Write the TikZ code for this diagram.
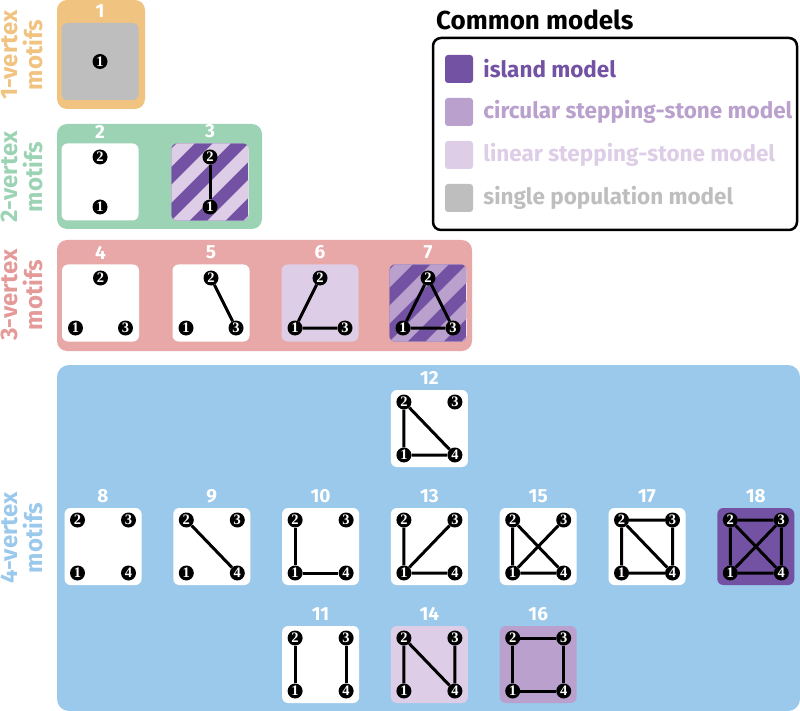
\documentclass[tikz,border=0pt]{standalone}
\usepackage{fontspec}
\setmainfont{Fira Sans}
\newfontfamily\vtxfont{Liberation Serif}
\usetikzlibrary{positioning, calc}

\definecolor{grporange}{HTML}{F0C380}
\definecolor{grpgreen}{HTML}{9DD3B5}
\definecolor{grpred}{HTML}{E8A8A8}
\definecolor{grpblue}{HTML}{9BC9EC}
\definecolor{txtred}{HTML}{E59A9A}
\definecolor{island}{HTML}{7352A3}
\definecolor{circular}{HTML}{B9A0CD}
\definecolor{linear}{HTML}{DDCDE6}
\definecolor{single}{HTML}{BEBEBE}

% vertices of a motif, placed round the square node #1
\newcommand{\onevtx}[1]{%
  \node[vtx] (#1-1) at (#1) {1};}
\newcommand{\twovtx}[1]{%
  \node[vtx] (#1-1) at ($(#1)+(0,25)$) {1};
  \node[vtx] (#1-2) at ($(#1)+(0,-25)$) {2};}
\newcommand{\threevtx}[1]{%
  \node[vtx] (#1-1) at ($(#1)+(-25,25)$) {1};
  \node[vtx] (#1-2) at ($(#1)+(0,-25)$) {2};
  \node[vtx] (#1-3) at ($(#1)+(25,25)$) {3};}
\newcommand{\fourvtx}[1]{%
  \node[vtx] (#1-1) at ($(#1)+(-25.5,26.5)$) {1};
  \node[vtx] (#1-2) at ($(#1)+(-25.5,-26.5)$) {2};
  \node[vtx] (#1-3) at ($(#1)+(25.5,-26.5)$) {3};
  \node[vtx] (#1-4) at ($(#1)+(25.5,26.5)$) {4};}
% island stripes over a square node #1, other colour #2
\newcommand{\stripefill}[2]{%
  \begin{scope}
    \clip[rounded corners=6pt] (#1.south west) rectangle (#1.north east);
    \fill[island] (#1.south west) rectangle (#1.north east);
    \foreach \k in {-3,...,3}
      \fill[#2] ($(#1)+(\k*36-60,60)$) -- ++(18,0) -- ++(120,-120) -- ++(-18,0) -- cycle;
  \end{scope}}

\begin{document}
\begin{tikzpicture}[x=1pt, y=-1pt,
    motif/.style={rectangle, rounded corners=6pt, fill=white, minimum size=77pt, inner sep=0pt},
    vtx/.style={circle, fill=black, text=white, inner sep=0pt, minimum size=15pt, font=\vtxfont\bfseries\fontsize{14.5}{14.5}\selectfont},
    link/.style={line width=3pt, black},
    num/.style={text=white, inner sep=0pt, font=\fontsize{19}{19}\selectfont\bfseries},
    grplabel/.style={rotate=90, align=center, inner sep=0pt, font=\fontsize{24}{25}\selectfont\bfseries},
    swatch/.style={rectangle, rounded corners=3pt, minimum size=28pt, inner sep=0pt},
    legtext/.style={anchor=west, inner sep=0pt, font=\fontsize{22.5}{22.5}\selectfont\bfseries},
  ]
  \useasboundingbox (0,0) rectangle (800,711);

  % Group backgrounds
  \fill[grporange, rounded corners=10pt] (57,0) rectangle (145,109);
  \fill[grpgreen, rounded corners=10pt] (57,124) rectangle (262,229);
  \fill[grpred, rounded corners=10pt] (57,240) rectangle (472,351);
  \fill[grpblue, rounded corners=12pt] (57,365) rectangle (800,711);

  % Group labels
  \node[grplabel, text=grporange] (g1) at (22,55) {1-vertex\\motifs};
  \node[grplabel, text=grpgreen] (g2) at (22,177) {2-vertex\\motifs};
  \node[grplabel, text=txtred] (g3) at (22,295) {3-vertex\\motifs};
  \node[grplabel, text=grpblue] (g4) at (22,538) {4-vertex\\motifs};

  % Motif squares
  \node[motif, fill=single] (m1) at (100,61.5) {};
  \node[motif] (m2) at (100,182) {};
  \node[motif] (m3) at (210,182) {};
  \node[motif] (m4) at (100.5,303) {};
  \node[motif] (m5) at (211,303) {};
  \node[motif, fill=linear] (m6) at (320,303) {};
  \node[motif] (m7) at (428,303) {};
  \node[motif] (m12) at (429.4,428.5) {};
  \node[motif] (m8) at (103,546.5) {};
  \node[motif] (m9) at (211.8,546.5) {};
  \node[motif] (m10) at (320.6,546.5) {};
  \node[motif] (m13) at (429.4,546.5) {};
  \node[motif] (m15) at (538.2,546.5) {};
  \node[motif] (m17) at (647,546.5) {};
  \node[motif, fill=island] (m18) at (755.8,546.5) {};
  \node[motif] (m11) at (320.6,664.5) {};
  \node[motif, fill=linear] (m14) at (429.4,664.5) {};
  \node[motif, fill=circular] (m16) at (538.2,664.5) {};

  % Mixed models
  \stripefill{m3}{linear}
  \stripefill{m7}{circular}

  % Motif numbers
  \foreach \m in {1,...,18}
    \node[num, above=5pt of m\m] (n\m) {\m};

  % Vertices
  \onevtx{m1}
  \twovtx{m2} \twovtx{m3}
  \threevtx{m4} \threevtx{m5} \threevtx{m6} \threevtx{m7}
  \foreach \m in {8,...,18} {\fourvtx{m\m}}

  % Edges
  \draw[link] (m3-1) -- (m3-2);
  \draw[link] (m5-2) -- (m5-3);
  \draw[link] (m6-1) -- (m6-2) (m6-1) -- (m6-3);
  \draw[link] (m7-1) -- (m7-2) (m7-2) -- (m7-3) (m7-1) -- (m7-3);
  \draw[link] (m9-2) -- (m9-4);
  \draw[link] (m10-1) -- (m10-2) (m10-1) -- (m10-4);
  \draw[link] (m11-1) -- (m11-2) (m11-3) -- (m11-4);
  \draw[link] (m12-1) -- (m12-2) (m12-2) -- (m12-4) (m12-1) -- (m12-4);
  \draw[link] (m13-1) -- (m13-2) (m13-1) -- (m13-3) (m13-1) -- (m13-4);
  \draw[link] (m14-1) -- (m14-2) (m14-2) -- (m14-4) (m14-3) -- (m14-4);
  \draw[link] (m15-1) -- (m15-2) (m15-2) -- (m15-4) (m15-1) -- (m15-3) (m15-1) -- (m15-4);
  \draw[link] (m16-1) -- (m16-2) (m16-2) -- (m16-3) (m16-3) -- (m16-4) (m16-1) -- (m16-4);
  \draw[link] (m17-1) -- (m17-2) (m17-2) -- (m17-3) (m17-2) -- (m17-4) (m17-3) -- (m17-4) (m17-1) -- (m17-4);
  \draw[link] (m18-1) -- (m18-2) (m18-2) -- (m18-3) (m18-3) -- (m18-4) (m18-1) -- (m18-4) (m18-1) -- (m18-3) (m18-2) -- (m18-4);

  % Legend
  \node[anchor=base west, inner sep=0pt, font=\fontsize{26}{26}\selectfont\bfseries] (hdr) at (436,30) {Common models};
  \draw[line width=2.5pt, rounded corners=8pt] (433,38) rectangle (797,230);
  \node[swatch, fill=island] (sw1) at (459,69) {};
  \node[swatch, fill=circular] (sw2) at (459,112) {};
  \node[swatch, fill=linear] (sw3) at (459,155) {};
  \node[swatch, fill=single] (sw4) at (459,198) {};
  \node[legtext, text=island, right=10pt of sw1] (lt1) {island model};
  \node[legtext, text=circular, right=10pt of sw2] (lt2) {circular stepping-stone model};
  \node[legtext, text=linear, right=10pt of sw3] (lt3) {linear stepping-stone model};
  \node[legtext, text=single, right=10pt of sw4] (lt4) {single population model};
\end{tikzpicture}
\end{document}
